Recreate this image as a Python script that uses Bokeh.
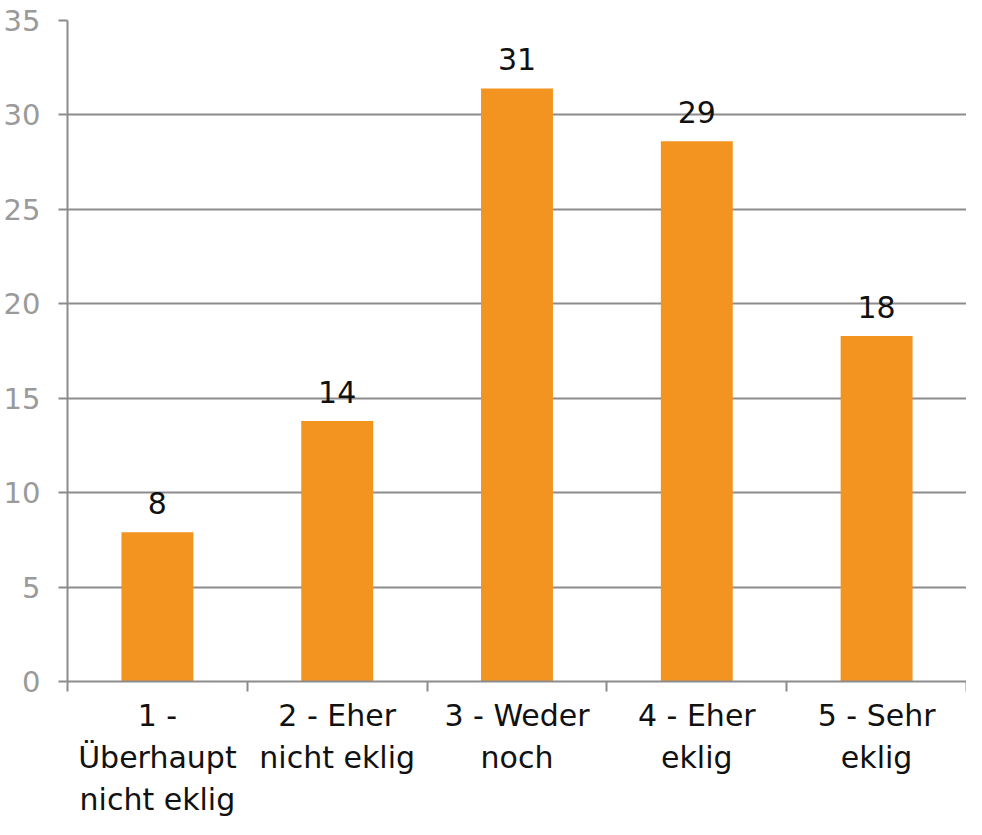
from bokeh.plotting import figure
from bokeh.models import Range1d, FixedTicker, ColumnDataSource
from bokeh.embed import file_html
from bokeh.resources import INLINE
from bokeh.core.properties import value

categories = ["1 -\nÜberhaupt\nnicht eklig", "2 - Eher\nnicht eklig", "3 - Weder\nnoch",
              "4 - Eher\neklig", "5 - Sehr\neklig"]
values = [7.9, 13.8, 31.4, 28.6, 18.3]
value_labels = ["8", "14", "31", "29", "18"]
y_ticks = [0, 5, 10, 15, 20, 25, 30, 35]

positions = list(range(1, len(categories) + 1))
boundaries = [p - 0.5 for p in positions] + [positions[-1] + 0.5]

FONT = "DejaVu Sans"
GRID = "#8C8C8C"

p = figure(width=966, height=819, output_backend="svg", toolbar_location=None,
           x_range=Range1d(0.5, len(categories) + 0.5), y_range=Range1d(0, 35),
           min_border_left=66, min_border_right=0, min_border_top=20, min_border_bottom=120)
p.outline_line_color = None
p.background_fill_color = "white"
p.border_fill_color = "white"

src = ColumnDataSource(dict(x=positions, top=values, lab=value_labels))
p.vbar(x="x", top="top", width=0.4, source=src, fill_color="#F39320", line_color=None)
p.text(x="x", y="top", text="lab", source=src, text_align="center", text_baseline="alphabetic",
       y_offset=-29, text_font=value(FONT), text_font_size="30px", text_color="#111111")

# y axis
p.yaxis.ticker = FixedTicker(ticks=y_ticks)
p.yaxis.axis_line_color = GRID
p.yaxis.axis_line_width = 2
p.yaxis.major_tick_line_color = GRID
p.yaxis.major_tick_line_width = 2
p.yaxis.major_tick_out = 9
p.yaxis.major_tick_in = 0
p.yaxis.minor_tick_line_color = None
p.yaxis.major_label_text_font = FONT
p.yaxis.major_label_text_font_size = "29px"
p.yaxis.major_label_text_color = "#9A9A9A"
p.yaxis.major_label_standoff = 18

# x axis
p.xaxis.ticker = FixedTicker(ticks=positions, minor_ticks=boundaries)
p.xaxis.major_label_overrides = {pos: cat for pos, cat in zip(positions, categories)}
p.xaxis.axis_line_color = GRID
p.xaxis.axis_line_width = 2
p.xaxis.major_tick_line_color = None
p.xaxis.minor_tick_line_color = GRID
p.xaxis.minor_tick_line_width = 2
p.xaxis.minor_tick_out = 10
p.xaxis.minor_tick_in = 0
p.xaxis.major_label_text_font = FONT
p.xaxis.major_label_text_font_size = "30px"
p.xaxis.major_label_text_color = "#111111"
p.xaxis.major_label_standoff = 6

p.xgrid.grid_line_color = None
p.ygrid.ticker = FixedTicker(ticks=y_ticks)
p.ygrid.grid_line_color = GRID
p.ygrid.grid_line_width = 2

open("out.html", "w").write(file_html(p, INLINE))
